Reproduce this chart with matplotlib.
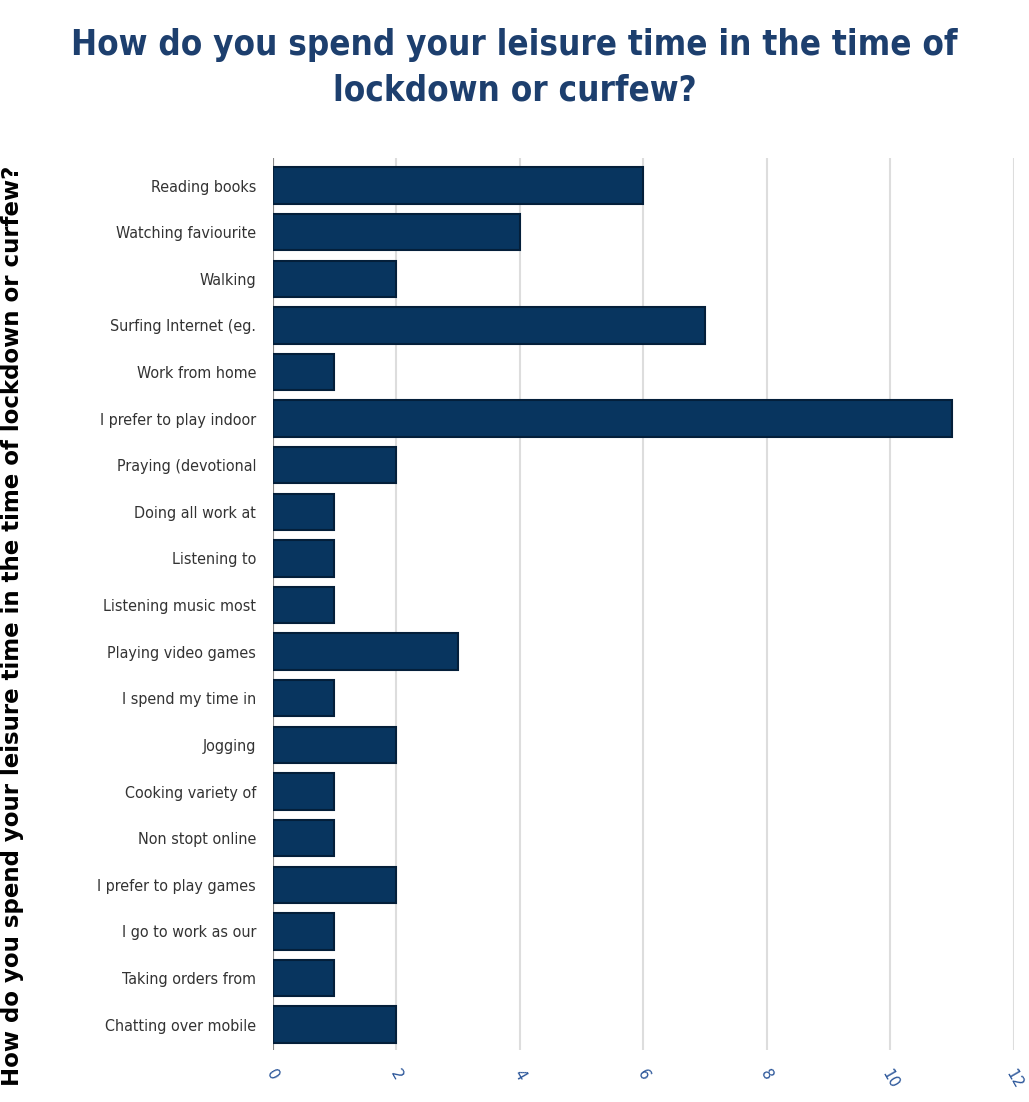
import matplotlib.pyplot as plt
import numpy as np

categories = ['Reading books', 'Watching faviourite', 'Walking', 'Surfing Internet (eg.',
              'Work from home', 'I prefer to play indoor', 'Praying (devotional',
              'Doing all work at', 'Listening to', 'Listening music most',
              'Playing video games', 'I spend my time in', 'Jogging', 'Cooking variety of',
              'Non stopt online', 'I prefer to play games', 'I go to work as our',
              'Taking orders from', 'Chatting over mobile']
counts = [6, 4, 2, 7, 1, 11, 2, 1, 1, 1, 3, 1, 2, 1, 1, 2, 1, 1, 2]
xticks = [0, 2, 4, 6, 8, 10, 12]

fig = plt.figure(figsize=(10.29, 11.02), dpi=100)
ax = fig.add_axes([0.265, 0.047, 0.72, 0.81])

y = np.arange(len(categories))
ax.barh(y, counts, height=0.78, color='#08355f', edgecolor='#041f3a', linewidth=1.5, zorder=3)
ax.set_yticks(y)
ax.set_yticklabels(categories, fontsize=11.5, color='#333333', fontstretch='condensed')
ax.set_ylim(len(categories) - 0.45, -0.6)
ax.set_xlim(0, 12)
ax.set_xticks(xticks)
ax.set_xticklabels([str(t) for t in xticks], rotation=-60, color='#2a5599', fontsize=11)
ax.tick_params(axis='y', length=0, pad=12)
ax.tick_params(axis='x', length=0, pad=12)
ax.grid(axis='x', color='#dddddd', linewidth=1.5, zorder=0)
for s in ax.spines.values():
    s.set_visible(False)
ax.axvline(0, color='#888888', linewidth=1.5, zorder=2)

ax.set_ylabel('How do you spend your leisure time in the time of lockdown or curfew?',
              fontsize=16.5, fontweight='bold', color='black')
ax.yaxis.set_label_coords(-0.335, 0.475)

fig.text(0.5, 0.975, 'How do you spend your leisure time in the time of\nlockdown or curfew?',
         ha='center', va='top', fontsize=25, fontweight='bold', color='#1d3f6e',
         fontstretch='condensed', linespacing=1.45)

fig.savefig('out.png', dpi=100)
